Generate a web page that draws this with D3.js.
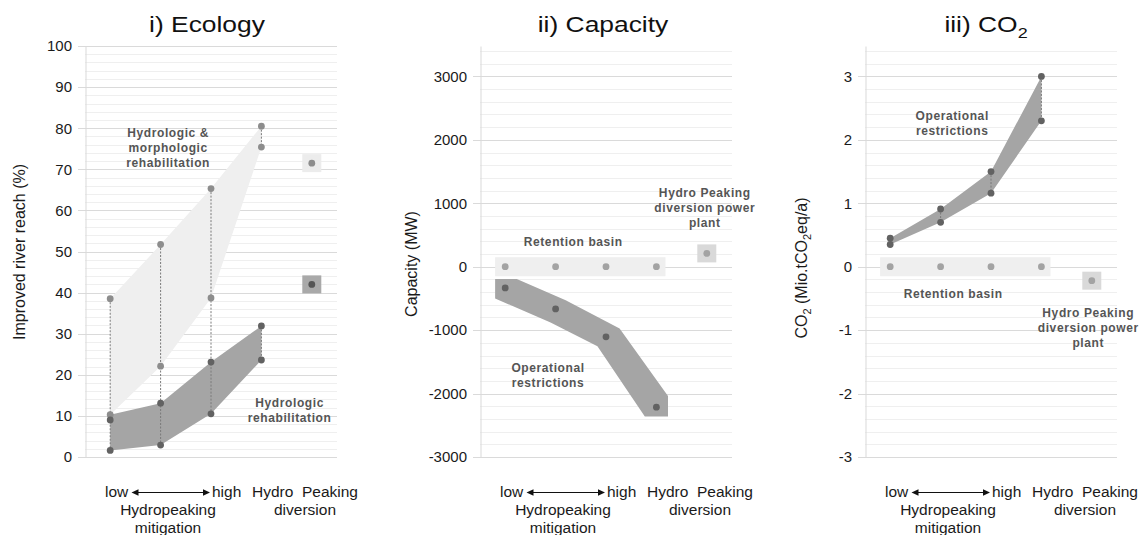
<!DOCTYPE html>
<html><head><meta charset="utf-8">
<script src="https://cdn.jsdelivr.net/npm/d3@7"></script>
<style>body{margin:0;background:#fff}svg{display:block}</style>
</head><body>
<script>
// ================= DATA =================
const categories = [0, 1, 2, 3, 4];           // 4 mitigation levels (low→high) + Hydro Peaking diversion
const mitigationCats = [0, 1, 2, 3];
const diversionCat = 4;

// i) Ecology (% improved river reach)
const ecoTicks = [0, 10, 20, 30, 40, 50, 60, 70, 80, 90, 100];
const ecoMorphUpper = [38.5, 51.7, 65.3, 80.5];
const ecoMorphLower = [10.3, 22.1, 38.7, 75.4];
const ecoHydroUpper = [9.0, 13.1, 23.1, 31.9];
const ecoHydroLower = [1.6, 2.9, 10.5, 23.6];
const ecoHydroBandTop = [10.3, 13.1, 23.1, 31.9];
const ecoDiversionMorph = 71.5;
const ecoDiversionHydro = 42.0;

// ii) Capacity (MW)
const capTicks = [-3000, -2000, -1000, 0, 1000, 2000, 3000];
const capRetention = [0, 0, 0, 0];
const capOperational = [-335, -665, -1105, -2215];
const capBandUpper = [[-0.2, -195], [0.23, -195], [1.2, -530], [2.27, -975], [3.23, -2040]];
const capBandLower = [[3.23, -2360], [2.77, -2360], [1.83, -1255], [0.9, -880], [-0.2, -500]];
const capRetentionBand = [-150, 150];
const capDiversion = 210;

// iii) CO2 (Mio. t CO2eq/a)
const co2Ticks = [-3, -2, -1, 0, 1, 2, 3];
const co2Retention = [0, 0, 0, 0];
const co2Upper = [0.45, 0.91, 1.50, 3.00];
const co2Lower = [0.35, 0.70, 1.16, 2.30];
const co2RetentionBand = [-0.15, 0.15];
const co2Diversion = -0.22;

// ================= LAYOUT / STYLE =================
const FONT = "'Liberation Sans', Arial, Helvetica, sans-serif";
const W = 252, TOP = 46, BOTTOM = 457;
const svg = d3.select("body").append("svg").attr("width", 1145).attr("height", 535);

const C = {
  minor: "#efefef", major: "#dadada", axis: "#d9d9d9",
  light: "#efefef", dark: "#a5a5a5",
  dotLight: "#8d8d8d", dotDark: "#626262", dotRet: "#a3a3a3",
  sqLight: "#ececec", sqDark: "#a9a9a9", sqMid: "#d9d9d9",
  note: "#555555", dash: "#7a7a7a"
};

function makePanel(x0, domain, major, minorStep) {
  const x = d3.scaleLinear().domain([-0.5, 4.5]).range([x0, x0 + W]);
  const y = d3.scaleLinear().domain(domain).range([BOTTOM, TOP]);
  const g = svg.append("g");
  const minor = d3.range(major[0], domain[1] + minorStep * 0.01, minorStep);
  g.append("g").selectAll("line").data(minor).join("line")
    .attr("x1", x0).attr("x2", x0 + W)
    .attr("y1", d => Math.round(y(d)) + 0.5).attr("y2", d => Math.round(y(d)) + 0.5)
    .attr("stroke", C.minor);
  g.append("g").selectAll("line").data(major).join("line")
    .attr("x1", x0 - 7).attr("x2", x0 + W)
    .attr("y1", d => Math.round(y(d)) + 0.5).attr("y2", d => Math.round(y(d)) + 0.5)
    .attr("stroke", C.major);
  const ax = g.append("g").attr("transform", `translate(${x0 + 0.5},0)`)
    .call(d3.axisLeft(y).tickValues(major).tickSize(0).tickSizeOuter(0).tickPadding(13.5).tickFormat(d => String(d)));
  ax.select(".domain").attr("stroke", C.axis);
  ax.selectAll("text").attr("font-family", FONT).attr("font-size", 15).attr("fill", "#1a1a1a");
  return { g, x, y, x0 };
}

function title(cx, parts) {
  const t = svg.append("text").attr("transform", `translate(${cx},32) scale(1.2,1)`)
    .attr("text-anchor", "middle").attr("font-family", FONT).attr("font-size", 22).attr("fill", "#111");
  parts.forEach(p => t.append("tspan").text(p.t).attr("dy", p.dy || 0).attr("font-size", p.s || null));
}

function yLabel(xb, cy, parts) {
  const t = svg.append("text").attr("transform", `translate(${xb},${cy}) rotate(-90)`)
    .attr("text-anchor", "middle").attr("font-family", FONT).attr("font-size", 16).attr("fill", "#1a1a1a");
  parts.forEach(p => t.append("tspan").text(p.t).attr("dy", p.dy || 0).attr("font-size", p.s || null));
}

function note(P, cat, baselineY, lines) {
  const t = svg.append("text").attr("text-anchor", "middle").attr("font-family", FONT)
    .attr("font-size", 12).attr("font-weight", "bold").attr("letter-spacing", 0.6).attr("fill", C.note);
  lines.forEach((l, i) => t.append("tspan").attr("x", P.x(cat)).attr("y", baselineY + i * 15).text(l));
}

function xLabels(P) {
  const x0 = P.x0;
  const g = svg.append("g").attr("font-family", FONT).attr("font-size", 15.5).attr("fill", "#1a1a1a");
  g.append("text").attr("x", x0 + 20).attr("y", 497).text("low");
  g.append("text").attr("x", x0 + 127).attr("y", 497).text("high");
  g.append("text").attr("x", x0 + 83).attr("y", 515).attr("text-anchor", "middle").text("Hydropeaking");
  g.append("text").attr("x", x0 + 83).attr("y", 533).attr("text-anchor", "middle").text("mitigation");
  g.append("text").attr("x", x0 + 220).attr("y", 497).attr("text-anchor", "middle").text("Hydro\u00a0 Peaking");
  g.append("text").attr("x", x0 + 220).attr("y", 515).attr("text-anchor", "middle").text("diversion");
  const ay = 492.5, a1 = x0 + 46.5, a2 = x0 + 125;
  g.append("line").attr("x1", a1 + 5).attr("x2", a2 - 5).attr("y1", ay).attr("y2", ay).attr("stroke", "#111").attr("stroke-width", 1.1);
  g.append("path").attr("d", `M${a1},${ay} l7,-3.2 v6.4 Z`).attr("fill", "#111");
  g.append("path").attr("d", `M${a2},${ay} l-7,-3.2 v6.4 Z`).attr("fill", "#111");
}

function dots(P, cats, vals, color) {
  P.g.append("g").selectAll("circle").data(vals).join("circle")
    .attr("cx", (d, i) => P.x(cats[i])).attr("cy", d => P.y(d)).attr("r", 3.4).attr("fill", color);
}

function vdash(P, segs) {
  P.g.append("g").selectAll("line").data(segs).join("line")
    .attr("x1", d => P.x(d.c)).attr("x2", d => P.x(d.c))
    .attr("y1", d => P.y(d.a)).attr("y2", d => P.y(d.b))
    .attr("stroke", C.dash).attr("stroke-width", 1).attr("stroke-dasharray", "2,1.5");
}

function square(P, cat, v, fill) {
  P.g.append("rect").attr("x", P.x(cat) - 9.5).attr("y", P.y(v) - 9).attr("width", 19).attr("height", 18).attr("fill", fill);
}

// ================= PANEL i) Ecology =================
const P1 = makePanel(85, [0, 100], ecoTicks, 2);
P1.g.append("path").attr("fill", C.light)
  .attr("d", d3.area().x((d, i) => P1.x(mitigationCats[i])).y0((d, i) => P1.y(ecoMorphLower[i])).y1(d => P1.y(d))(ecoMorphUpper));
P1.g.append("path").attr("fill", C.dark)
  .attr("d", d3.area().x((d, i) => P1.x(mitigationCats[i])).y0((d, i) => P1.y(ecoHydroLower[i])).y1(d => P1.y(d))(ecoHydroBandTop));
vdash(P1, [
  ...mitigationCats.slice(0, 3).map(i => ({ c: i, a: ecoMorphUpper[i], b: ecoHydroLower[i] })),
  { c: 3, a: ecoMorphUpper[3], b: ecoMorphLower[3] },
  { c: 3, a: ecoHydroUpper[3], b: ecoHydroLower[3] }
]);
dots(P1, mitigationCats, ecoMorphUpper, C.dotLight);
dots(P1, mitigationCats, ecoMorphLower, C.dotLight);
dots(P1, mitigationCats, ecoHydroUpper, C.dotDark);
dots(P1, mitigationCats, ecoHydroLower, C.dotDark);
square(P1, diversionCat, ecoDiversionMorph, C.sqLight);
square(P1, diversionCat, ecoDiversionHydro, C.sqDark);
dots(P1, [diversionCat], [ecoDiversionMorph], C.dotLight);
dots(P1, [diversionCat], [ecoDiversionHydro], "#555");
note(P1, 1.15, 137, ["Hydrologic &", "morphologic", "rehabilitation"]);
note(P1, 3.56, 407, ["Hydrologic", "rehabilitation"]);
title(207, [{ t: "i) Ecology" }]);
yLabel(25, 252, [{ t: "Improved river reach (%)" }]);
xLabels(P1);

// ================= PANEL ii) Capacity =================
const P2 = makePanel(480, [-3000, 3480], capTicks, 200);
P2.g.append("rect").attr("x", P2.x(-0.2)).attr("width", P2.x(3.18) - P2.x(-0.2))
  .attr("y", P2.y(capRetentionBand[1])).attr("height", P2.y(capRetentionBand[0]) - P2.y(capRetentionBand[1]))
  .attr("fill", C.light);
P2.g.append("path").attr("fill", C.dark)
  .attr("d", d3.line().x(d => P2.x(d[0])).y(d => P2.y(d[1]))([...capBandUpper, ...capBandLower]) + "Z");
dots(P2, mitigationCats, capRetention, C.dotRet);
dots(P2, mitigationCats, capOperational, C.dotDark);
square(P2, diversionCat, capDiversion, C.sqMid);
dots(P2, [diversionCat], [capDiversion], C.dotRet);
note(P2, 1.35, 246, ["Retention basin"]);
note(P2, 3.96, 197, ["Hydro Peaking", "diversion power", "plant"]);
note(P2, 0.85, 372, ["Operational", "restrictions"]);
title(603, [{ t: "ii) Capacity" }]);
yLabel(417, 264, [{ t: "Capacity (MW)" }]);
xLabels(P2);

// ================= PANEL iii) CO2 =================
const P3 = makePanel(865, [-3, 3.48], co2Ticks, 0.2);
P3.g.append("rect").attr("x", P3.x(-0.2)).attr("width", P3.x(3.18) - P3.x(-0.2))
  .attr("y", P3.y(co2RetentionBand[1])).attr("height", P3.y(co2RetentionBand[0]) - P3.y(co2RetentionBand[1]))
  .attr("fill", C.light);
P3.g.append("path").attr("fill", C.dark)
  .attr("d", d3.area().x((d, i) => P3.x(mitigationCats[i])).y0((d, i) => P3.y(co2Lower[i])).y1(d => P3.y(d))(co2Upper));
vdash(P3, mitigationCats.map(i => ({ c: i, a: co2Upper[i], b: co2Lower[i] })));
dots(P3, mitigationCats, co2Retention, C.dotRet);
dots(P3, mitigationCats, co2Upper, C.dotDark);
dots(P3, mitigationCats, co2Lower, C.dotDark);
square(P3, diversionCat, co2Diversion, C.sqMid);
dots(P3, [diversionCat], [co2Diversion], C.dotRet);
note(P3, 1.23, 120, ["Operational", "restrictions"]);
note(P3, 1.25, 298, ["Retention basin"]);
note(P3, 3.93, 317, ["Hydro Peaking", "diversion power", "plant"]);
title(986, [{ t: "iii) CO" }, { t: "2", dy: 6, s: 15 }]);
yLabel(807, 268, [{ t: "CO" }, { t: "2", dy: 4, s: 11 }, { t: " (Mio.tCO", dy: -4, s: 16 }, { t: "2", dy: 4, s: 11 }, { t: "eq/a)", dy: -4, s: 16 }]);
xLabels(P3);
</script>
</body></html>
